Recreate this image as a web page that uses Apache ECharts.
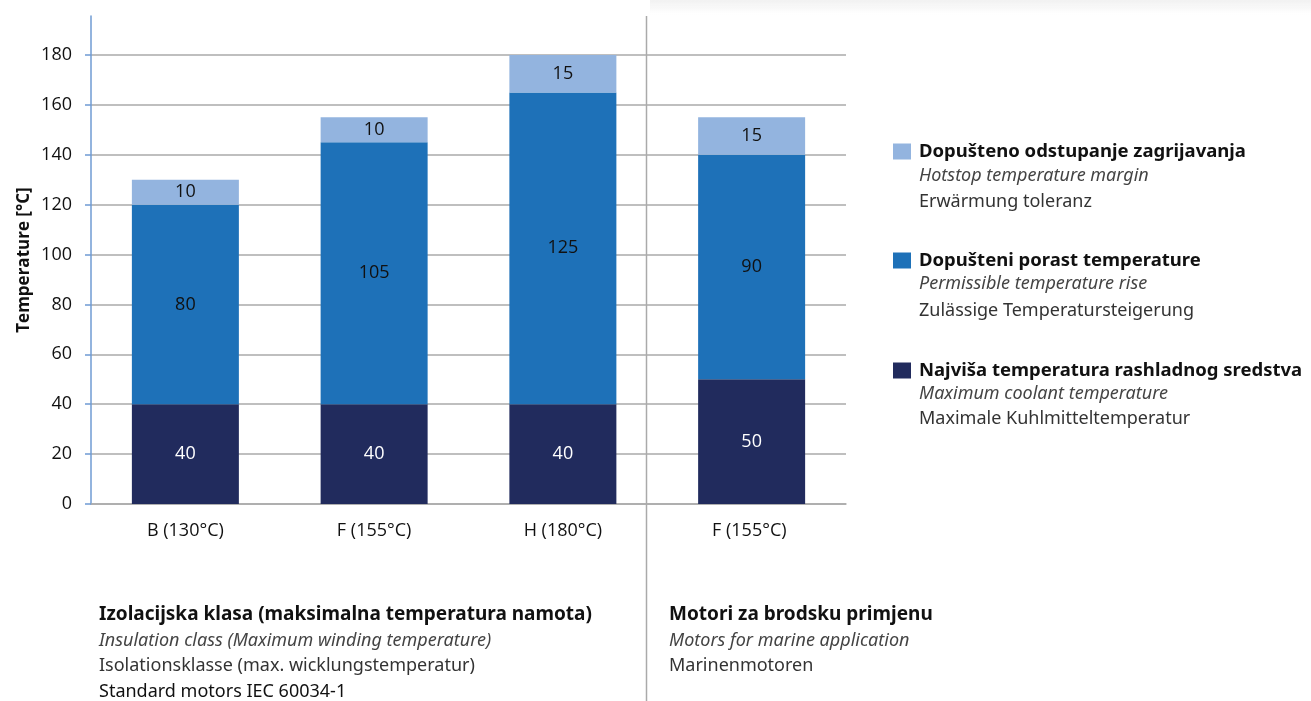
<!DOCTYPE html>
<html>
<head>
<meta charset="utf-8">
<script src="https://cdn.jsdelivr.net/npm/echarts@6/dist/echarts.min.js"></script>
<style>
html,body{margin:0;padding:0;background:#fff;}
#chart{width:1311px;height:701px;}
</style>
</head>
<body>
<div id="chart"></div>
<script>
const categories = ['B (130°C)', 'F (155°C)', 'H (180°C)', 'F (155°C) '];
const coolant = [40, 40, 40, 50];
const rise = [80, 105, 125, 90];
const margin = [10, 10, 15, 15];
const seriesNames = ['Najviša temperatura rashladnog sredstva', 'Dopušteni porast temperature', 'Dopušteno odstupanje zagrijavanja'];
const legendSub = [
  ['Maximum coolant temperature', 'Maximale Kuhlmitteltemperatur'],
  ['Permissible temperature rise', 'Zulässige Temperatursteigerung'],
  ['Hotstop temperature margin', 'Erwärmung toleranz']
];
const colors = ['#212b5d', '#1e71b8', '#93b4df'];

const chart = echarts.init(document.getElementById('chart'));
const tickFont = '"Open Sans", "Noto Sans", sans-serif';
const textFont = '"Noto Sans", "Open Sans", sans-serif';

function legendAt(i, top) {
  return {
    data: [seriesNames[i]], left: 893, top: top, orient: 'vertical',
    itemWidth: 18, itemHeight: 16, icon: 'rect', itemGap: 0, padding: 0,
    selectedMode: false,
    textStyle: { fontFamily: textFont, fontSize: 18.5, fontWeight: 'bold', color: '#111', padding: [0, 0, 0, 3] }
  };
}
function subText(x, y, txt, style) {
  return { type: 'text', x: x, y: y, silent: true,
    style: Object.assign({ text: txt, font: '18px ' + textFont, fill: '#333', verticalAlign: 'middle', align: 'left' }, style || {}) };
}
const italic = { font: 'italic 18px ' + textFont, fill: '#444' };
const bold = { font: 'bold 19px ' + textFont, fill: '#111' };

const labelBase = { show: true, position: 'inside', fontFamily: tickFont, fontSize: 18, color: '#111' };

const option = {
  animation: false,
  grid: [
    { left: 91, right: 465, top: 55, bottom: 197 },
    { left: 91, right: 465, top: 16, bottom: 197 }
  ],
  xAxis: [
    { type: 'category', gridIndex: 0, data: categories,
      axisLine: { lineStyle: { color: '#aaaaaa', width: 1.5 } },
      axisTick: { show: false },
      axisLabel: { margin: 18, fontFamily: tickFont, fontSize: 18, color: '#111' } },
    { type: 'category', gridIndex: 1, data: categories, show: false }
  ],
  yAxis: [
    { type: 'value', gridIndex: 0, min: 0, max: 180, interval: 20,
      axisLine: { show: false },
      axisTick: { show: true, length: 6, lineStyle: { color: '#6f9bd3', width: 1.5 } },
      splitLine: { lineStyle: { color: '#aaaaaa', width: 1.5 } },
      axisLabel: { margin: 19, fontFamily: tickFont, fontSize: 18, color: '#111' } },
    { type: 'value', gridIndex: 1, min: 0, max: 196,
      axisLine: { show: true, lineStyle: { color: '#6f9bd3', width: 1.5 } },
      axisTick: { show: false }, axisLabel: { show: false }, splitLine: { show: false },
      name: 'Temperature [°C]', nameLocation: 'middle', nameGap: 58, nameRotate: 90,
      nameTextStyle: { fontFamily: tickFont, fontSize: 17, fontWeight: 'bold', color: '#111' } }
  ],
  legend: [legendAt(2, 142), legendAt(1, 251), legendAt(0, 361)],
  series: [
    { name: seriesNames[0], type: 'bar', stack: 't', data: coolant, barWidth: 107, itemStyle: { color: colors[0] },
      label: Object.assign({}, labelBase, { color: '#fff' }) },
    { name: seriesNames[1], type: 'bar', stack: 't', data: rise, barWidth: 107, itemStyle: { color: colors[1] },
      label: Object.assign({}, labelBase) },
    { name: seriesNames[2], type: 'bar', stack: 't', data: margin, barWidth: 107, itemStyle: { color: colors[2] },
      label: Object.assign({}, labelBase) }
  ],
  graphic: [
    { type: 'rect', shape: { x: 650, y: 0, width: 661, height: 15 }, silent: true,
      style: { fill: new echarts.graphic.LinearGradient(0, 0, 0, 1, [
        { offset: 0, color: 'rgba(238,238,238,0.8)' }, { offset: 0.6, color: 'rgba(245,245,245,0.6)' }, { offset: 1, color: 'rgba(255,255,255,0)' }]) } },
    { type: 'line', shape: { x1: 646.5, y1: 16, x2: 646.5, y2: 701 }, style: { stroke: '#aaaaaa', lineWidth: 1.5 }, z: 10 },
    subText(919, 176, legendSub[2][0], italic),
    subText(919, 202, legendSub[2][1]),
    subText(919, 284, legendSub[1][0], italic),
    subText(919, 311, legendSub[1][1]),
    subText(919, 394, legendSub[0][0], italic),
    subText(919, 419, legendSub[0][1]),
    subText(99, 615, 'Izolacijska klasa (maksimalna temperatura namota)', bold),
    subText(99, 641, 'Insulation class (Maximum winding temperature)', italic),
    subText(99, 666, 'Isolationsklasse (max. wicklungstemperatur)'),
    subText(99, 692, 'Standard motors IEC 60034-1', { fill: '#111' }),
    subText(669, 615, 'Motori za brodsku primjenu', bold),
    subText(669, 641, 'Motors for marine application', italic),
    subText(669, 666, 'Marinenmotoren')
  ]
};
chart.setOption(option);
</script>
</body>
</html>
